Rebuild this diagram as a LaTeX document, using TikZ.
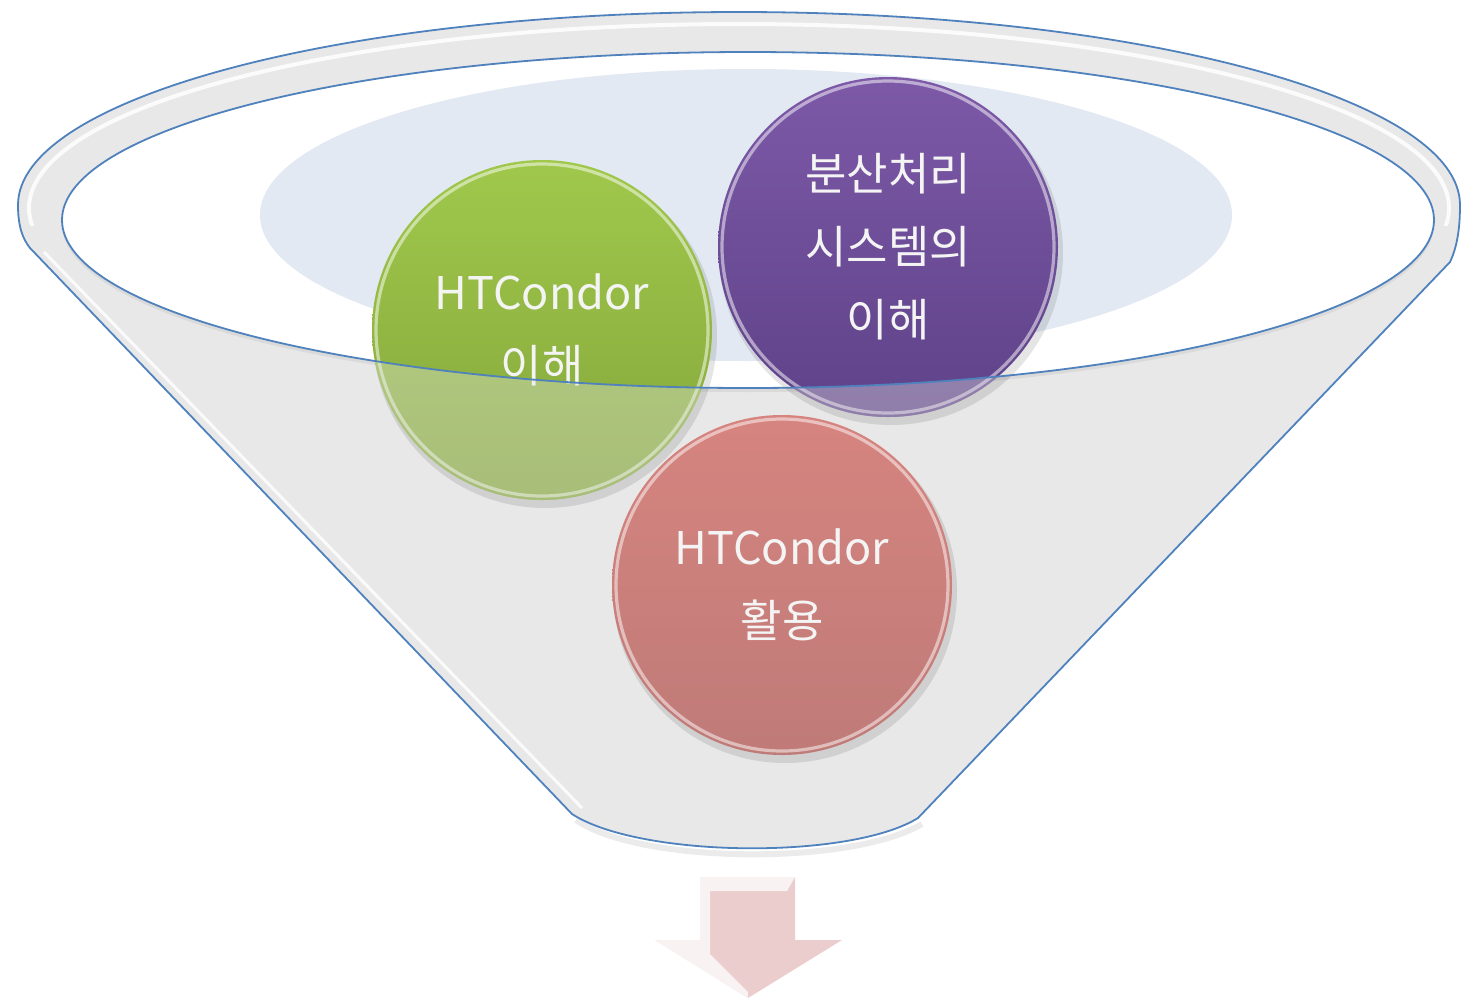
\documentclass[tikz,border=0pt]{standalone}
\usepackage{fontspec}
\setmainfont{Noto Sans CJK KR}
\usetikzlibrary{calc}
\definecolor{rimblue}{HTML}{4F81BD}
\definecolor{funnelgray}{HTML}{E8E8E8}
\definecolor{rimgray}{HTML}{EFEFEF}
\definecolor{paleblue}{HTML}{E2E9F2}
\definecolor{greenTop}{HTML}{A0C84C}
\definecolor{greenBot}{HTML}{84A63A}
\definecolor{purpleTop}{HTML}{7D59A8}
\definecolor{purpleBot}{HTML}{5E4288}
\definecolor{redTop}{HTML}{D6847F}
\definecolor{redBot}{HTML}{BF7B78}
\definecolor{arrowpink}{HTML}{EBCDCD}
\definecolor{txt}{HTML}{F4F4F4}
\tikzset{
  ball/.style={circle, minimum size=170pt, inner sep=0pt, align=center,
    text=txt, font=\fontsize{22.5}{36.5}\selectfont},
  rimline/.style={draw=rimblue, line width=0.9pt},
  gloss/.style={draw=white, line width=1.6pt, opacity=0.5},
  fade/.style={fill=funnelgray, opacity=0.36, even odd rule}
}
\begin{document}
\begin{tikzpicture}[x=0.5pt,y=-0.5pt]
\useasboundingbox (0,0) rectangle (1463,998);
% funnel body
\coordinate (lj) at (30,248);
\coordinate (lb) at (572,814);
\coordinate (rb) at (918,818);
\coordinate (rj) at (1450,262);
\coordinate (re) at (1460,205);
\coordinate (le) at (18,205);
\fill[funnelgray] (rb) -- (rj) .. controls (1458,245) and (1460,225) .. (re)
  arc[start angle=0, end angle=180, x radius=360.5pt, y radius=96.5pt]
  .. controls (18,225) and (22,238) .. (lj) -- (lb) .. controls (640,858) and (850,860) .. (rb) -- cycle;
% soft shadow under bottom
\draw[black, opacity=0.08, line width=3pt] (576,820) .. controls (640,864) and (850,866) .. (922,824);
\draw[rimline] (rb) -- (rj) .. controls (1458,245) and (1460,225) .. (re)
  arc[start angle=0, end angle=180, x radius=360.5pt, y radius=96.5pt]
  .. controls (18,225) and (22,238) .. (lj) -- (lb) .. controls (640,858) and (850,860) .. (rb);
\draw[white, line width=1.5pt, opacity=0.8] (44,252) -- (582,808);
\begin{scope}
  \clip (0,0) rectangle (1463,225);
  \draw[white, line width=2pt, opacity=0.85] (739,208) ellipse [x radius=355pt, y radius=92pt];
\end{scope}
% inner opening
\fill[black, opacity=0.06] (748,224) ellipse [x radius=343pt, y radius=84pt];
\fill[white] (748,220) ellipse [x radius=343pt, y radius=84pt];
\fill[paleblue] (746,215) ellipse [x radius=243pt, y radius=73pt];
% balls
\foreach \x/\y in {542/330,888/247,782/585}{
  \fill[black, opacity=0.10] (\x+3,\y+6) circle [radius=86pt];
}
\node[ball, top color=greenTop, bottom color=greenBot] (g) at (542,330) {HTCondor\\이해};
\node[ball, top color=purpleTop, bottom color=purpleBot] (p) at (888,247) {분산처리\\시스템의\\이해};
\node[ball, top color=redTop, bottom color=redBot] (r) at (782,585) {HTCondor\\활용};
\draw[gloss] (g.center) circle [radius=83pt];
\draw[gloss] (p.center) circle [radius=83pt];
\draw[gloss] (r.center) circle [radius=83pt];
% front face of funnel over the lower parts of the top balls
\begin{scope}
  \clip (g.center) circle [radius=85pt];
  \fill[fade] (0,0) rectangle (1463,998) (748,220) ellipse [x radius=343pt, y radius=84pt];
\end{scope}
\begin{scope}
  \clip (p.center) circle [radius=85pt];
  \fill[fade] (0,0) rectangle (1463,998) (748,220) ellipse [x radius=343pt, y radius=84pt];
\end{scope}
\draw[rimline] (748,220) ellipse [x radius=343pt, y radius=84pt];
% arrow
\coordinate (a1) at (700,877);
\coordinate (a2) at (795,877);
\coordinate (a3) at (795,940);
\coordinate (a4) at (842,940);
\coordinate (a5) at (748,998);
\coordinate (a6) at (655,940);
\coordinate (a7) at (700,940);
\fill[arrowpink] (a1) -- (a2) -- (a3) -- (a4) -- (a5) -- (a6) -- (a7) -- cycle;
\fill[white, opacity=0.75] (a1) -- (a2) -- (787,891) -- (710,891) -- (710,954) -- (748,992) -- (a5) -- (a6) -- (a7) -- cycle;
\end{tikzpicture}
\end{document}
